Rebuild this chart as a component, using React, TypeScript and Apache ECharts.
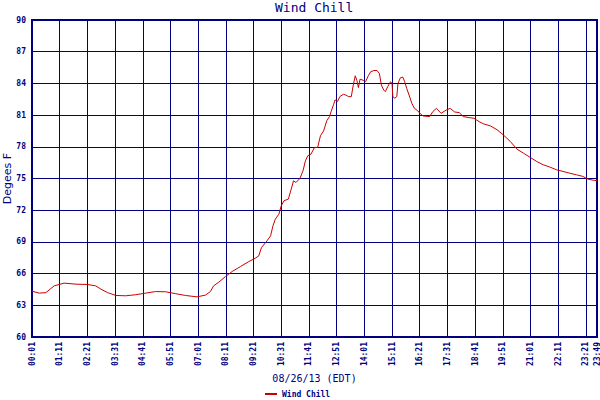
import React, { useEffect, useRef } from "react";
import * as echarts from "echarts";

// Elapsed minutes since the first sample (00:01, EDT)
const elapsedMinutes = [
  0, 18, 35, 56, 81, 111, 140, 161, 174, 191, 212, 237, 262, 287, 312, 338, 363, 388, 417, 438,
  451, 459, 472, 489, 506, 527, 548, 564, 573, 580, 594, 603, 609, 615, 624, 630, 637, 648, 654, 661,
  667, 677, 685, 691, 697, 705, 714, 722, 729, 737, 745, 752, 756, 762, 766, 772, 778, 787, 793, 800,
  807, 812, 817, 821, 825, 829, 837, 843, 850, 856, 864, 872, 878, 883, 889, 893, 899, 906, 910, 912,
  917, 922, 925, 931, 937, 942, 947, 953, 960, 966, 975, 980, 988, 1005, 1013, 1022, 1034, 1047, 1057, 1068,
  1080, 1090, 1105, 1117, 1130, 1142, 1159, 1176, 1192, 1209, 1226, 1242, 1259, 1276, 1292, 1309, 1326, 1342, 1359, 1376,
  1392, 1405, 1421, 1428,
];

// Wind chill, degrees F
const windChill = [
  64.34, 64.15, 64.2, 64.84, 65.1, 65.0, 64.97, 64.84, 64.53, 64.2, 63.93, 63.9, 64.0, 64.15, 64.3, 64.28, 64.1, 63.93, 63.8, 63.96,
  64.3, 64.84, 65.19, 65.72, 66.2, 66.67, 67.14, 67.45, 67.67, 68.47, 69.1, 69.58, 70.52, 71.15, 71.63, 72.42, 72.9, 73.05, 73.84, 74.78,
  74.62, 75.0, 75.73, 76.67, 77.15, 77.3, 77.94, 77.94, 79.04, 79.5, 80.46, 80.87, 81.34, 81.97, 82.44, 82.28, 82.75, 82.97, 82.9, 82.75,
  82.75, 83.84, 84.72, 84.3, 83.6, 84.4, 84.3, 84.16, 84.72, 85.1, 85.22, 85.22, 84.94, 83.84, 83.37, 83.22, 83.69, 84.16, 84.0, 82.75,
  82.6, 82.75, 84.0, 84.53, 84.6, 84.16, 83.53, 82.9, 82.12, 81.66, 81.4, 81.19, 80.92, 80.86, 81.33, 81.64, 81.17, 81.48, 81.64, 81.3,
  81.23, 80.86, 80.76, 80.7, 80.38, 80.16, 79.97, 79.6, 79.1, 78.5, 77.77, 77.4, 77.0, 76.6, 76.3, 76.08, 75.82, 75.67, 75.5, 75.35,
  75.2, 74.94, 74.82, 74.8,
];

// X tick labels, one every 70 minutes, plus the last sample
const xTickLabels = [
  "00:01", "01:11", "02:21", "03:31", "04:41", "05:51", "07:01", "08:11", "09:21", "10:31", "11:41",
  "12:51", "14:01", "15:11", "16:21", "17:31", "18:41", "19:51", "21:01", "22:11", "23:21",
];
const lastTickLabel = "23:49";
const xTickStep = 70;
const xMax = 1428;

const NAVY = "#000080";
const MONO = "DejaVu Sans Mono, monospace";

export default function App() {
  const ref = useRef<HTMLDivElement>(null);

  useEffect(() => {
    if (!ref.current) return;
    const chart = echarts.init(ref.current, null, { renderer: "svg" });
    const data = elapsedMinutes.map((m, i) => [m, windChill[i]]);
    chart.setOption({
      animation: false,
      backgroundColor: "#ffffff",
      title: {
        text: "Wind Chill",
        left: 275,
        top: 1,
        padding: 0,
        textStyle: { fontFamily: MONO, fontSize: 13, fontWeight: "normal", color: NAVY },
      },
      legend: {
        left: 265,
        top: 390,
        padding: 0,
        icon: "rect",
        itemWidth: 12,
        itemHeight: 2,
        textStyle: { fontFamily: MONO, fontSize: 8, fontWeight: "bold", color: NAVY },
        data: ["Wind Chill"],
      },
      grid: {
        left: 32,
        right: 3,
        top: 20,
        bottom: 63,
        containLabel: false,
        outerBoundsMode: "none",
        show: true,
        borderColor: NAVY,
        borderWidth: 2,
        backgroundColor: "#ffffff",
      },
      xAxis: {
        type: "value",
        min: 0,
        max: xMax,
        interval: xTickStep,
        name: "08/26/13 (EDT)",
        nameLocation: "middle",
        nameGap: 35,
        nameTextStyle: { fontFamily: MONO, fontSize: 10, color: NAVY },
        axisLine: { show: true, lineStyle: { color: NAVY, width: 2 } },
        axisTick: { show: false },
        splitLine: { show: true, lineStyle: { color: NAVY, width: 1 } },
        axisLabel: {
          rotate: 90,
          margin: 5,
          showMinLabel: true,
          showMaxLabel: true,
          hideOverlap: false,
          fontFamily: MONO,
          fontSize: 8,
          fontWeight: "bold",
          color: NAVY,
          formatter: (v: number) => {
            if (v >= xMax) return lastTickLabel;
            const idx = Math.round(v / xTickStep);
            return xTickLabels[idx] ?? "";
          },
        },
      },
      yAxis: {
        type: "value",
        min: 60,
        max: 90,
        interval: 3,
        name: "Degees F",
        nameLocation: "middle",
        nameGap: 19,
        nameRotate: 90,
        nameMoveOverlap: false,
        nameTextStyle: { fontFamily: "DejaVu Sans, sans-serif", fontSize: 11, color: NAVY },
        axisLine: { show: true, lineStyle: { color: NAVY, width: 2 } },
        axisTick: { show: false },
        splitLine: { show: true, lineStyle: { color: NAVY, width: 1 } },
        axisLabel: {
          margin: 6,
          fontFamily: MONO,
          fontSize: 8,
          fontWeight: "bold",
          color: NAVY,
        },
      },
      series: [
        {
          name: "Wind Chill",
          type: "line",
          data,
          symbol: "none",
          color: "#CC0000",
          lineStyle: { color: "#CC0000", width: 1 },
        },
      ],
    });
    return () => chart.dispose();
  }, []);

  return (
    <div
      ref={ref}
      style={{ position: "fixed", left: 0, top: 0, width: 600, height: 400 }}
    />
  );
}
